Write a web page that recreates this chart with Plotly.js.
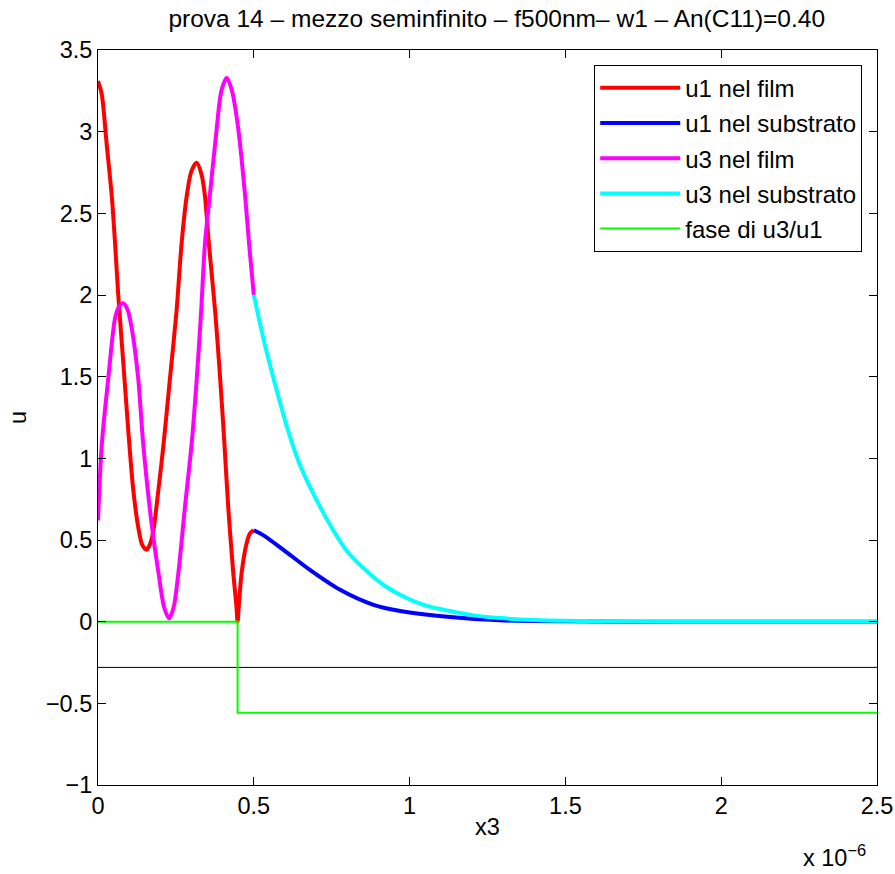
<!DOCTYPE html>
<html>
<head>
<meta charset="utf-8">
<script src="https://cdn.plot.ly/plotly-3.0.1.min.js"></script>
<style>html,body{margin:0;padding:0;background:#fff;}#chart{width:895px;height:874px;}</style>
</head>
<body>
<div id="chart"></div>
<script>
// x3 in units of 1e-6
const u1FilmX = [0, 0.012, 0.028, 0.044, 0.055, 0.065, 0.081, 0.098, 0.113, 0.129, 0.142, 0.156, 0.168, 0.178, 0.194, 0.21, 0.231, 0.252, 0.268, 0.285, 0.300, 0.317, 0.332, 0.343, 0.356, 0.376, 0.392, 0.405, 0.418, 0.434, 0.444, 0.448, 0.452, 0.461, 0.477, 0.488, 0.5];
const u1FilmY = [3.31, 3.23, 2.92, 2.61, 2.31, 2.0, 1.59, 1.15, 0.81, 0.58, 0.47, 0.44, 0.48, 0.56, 0.81, 1.08, 1.49, 1.90, 2.31, 2.61, 2.76, 2.81, 2.74, 2.61, 2.31, 1.90, 1.49, 1.11, 0.70, 0.30, 0.10, 0.0, 0.10, 0.30, 0.48, 0.54, 0.56];

const u1SubX = [0.5, 0.53, 0.595, 0.68, 0.777, 0.884, 0.97, 1.13, 1.29, 1.5, 1.7, 2.0, 2.5];
const u1SubY = [0.56, 0.53, 0.44, 0.317, 0.195, 0.103, 0.065, 0.028, 0.008, 0.002, 0.0, 0.0, 0.0];

const u3FilmX = [0, 0.012, 0.033, 0.055, 0.068, 0.081, 0.095, 0.108, 0.129, 0.145, 0.172, 0.194, 0.212, 0.228, 0.243, 0.258, 0.279, 0.301, 0.317, 0.331, 0.343, 0.359, 0.381, 0.396, 0.413, 0.430, 0.450, 0.472, 0.485, 0.5];
const u3FilmY = [0.62, 1.08, 1.49, 1.86, 1.93, 1.95, 1.91, 1.80, 1.49, 1.09, 0.60, 0.30, 0.09, 0.02, 0.09, 0.30, 0.70, 1.10, 1.49, 1.90, 2.31, 2.61, 3.02, 3.25, 3.33, 3.25, 3.02, 2.61, 2.31, 2.0];

const u3SubX = [0.5, 0.53, 0.573, 0.61, 0.648, 0.70, 0.755, 0.80, 0.862, 0.92, 0.99, 1.05, 1.13, 1.2, 1.29, 1.4, 1.5, 1.7, 2.0, 2.5];
const u3SubY = [2.0, 1.74, 1.42, 1.17, 0.96, 0.75, 0.56, 0.43, 0.31, 0.22, 0.145, 0.10, 0.065, 0.04, 0.022, 0.01, 0.005, 0.001, 0.0, 0.0];

const faseX = [0, 0.448, 0.448, 2.5];
const faseY = [0, 0, -0.557, -0.557];

const refX = [0, 2.5];
const refY = [-0.28, -0.28];

const xTicks = [0, 0.5, 1, 1.5, 2, 2.5];
const xTickText = ['0', '0.5', '1', '1.5', '2', '2.5'];
const yTicks = [-1, -0.5, 0, 0.5, 1, 1.5, 2, 2.5, 3, 3.5];

const FONT = 'Liberation Sans, Arial, sans-serif';

const traces = [
  {x: refX, y: refY, mode: 'lines', line: {color: '#000000', width: 1}, showlegend: false, hoverinfo: 'skip'},
  {x: u1FilmX, y: u1FilmY, mode: 'lines', name: 'u1 nel film', legendgroup: 'a', line: {color: '#ff0000', width: 4, shape: 'spline', smoothing: 0.8}},
  {x: u1SubX, y: u1SubY, mode: 'lines', name: 'u1 nel substrato', legendgroup: 'b', line: {color: '#0000ff', width: 4, shape: 'spline', smoothing: 0.8}},
  {x: u3FilmX, y: u3FilmY, mode: 'lines', name: 'u3 nel film', legendgroup: 'c', line: {color: '#ff00ff', width: 4, shape: 'spline', smoothing: 0.8}},
  {x: u3SubX, y: u3SubY, mode: 'lines', name: 'u3 nel substrato', legendgroup: 'd', line: {color: '#00ffff', width: 4, shape: 'spline', smoothing: 0.8}},
  {x: faseX, y: faseY, mode: 'lines', name: 'fase di u3/u1', legendgroup: 'e', line: {color: '#00ff00', width: 2}}
];

const axisCommon = {
  showgrid: false, zeroline: false, showline: true, linecolor: '#000', linewidth: 1,
  mirror: 'ticks', ticks: 'inside', ticklen: 8, tickcolor: '#000', tickwidth: 1,
  tickfont: {family: FONT, size: 23.5, color: '#000'}
};

const layout = {
  width: 895, height: 874,
  margin: {l: 98, r: 18, t: 50, b: 89},
  paper_bgcolor: '#fff', plot_bgcolor: '#fff',
  font: {family: FONT, color: '#000'},
  title: {text: 'prova 14 – mezzo seminfinito – f500nm– w1 – An(C11)=0.40', font: {family: FONT, size: 24.5, color: '#000'}, x: 0.555, xanchor: 'center', y: 0.979, yanchor: 'middle'},
  xaxis: Object.assign({}, axisCommon, {range: [0, 2.5], tickvals: xTicks, ticktext: xTickText, title: {text: 'x3', font: {family: FONT, size: 23.5, color: '#000'}, standoff: 0}}),
  yaxis: Object.assign({}, axisCommon, {range: [-1, 3.5], tickvals: yTicks, title: {text: 'u', font: {family: FONT, size: 23.5, color: '#000'}, standoff: 12}}),
  legend: {x: 0.637, y: 0.98, xanchor: 'left', yanchor: 'top', bgcolor: '#fff', bordercolor: '#000', borderwidth: 1, font: {family: FONT, size: 24, color: '#000'}, itemwidth: 80, traceorder: 'grouped', tracegroupgap: 1},
  annotations: [
    {xref: 'paper', yref: 'paper', x: 0.988, y: -0.074, xanchor: 'right', yanchor: 'top', showarrow: false, text: 'x 10<sup>−6</sup>', font: {family: FONT, size: 23.5, color: '#000'}}
  ],
  showlegend: true
};

Plotly.newPlot('chart', traces, layout, {displayModeBar: false, staticPlot: true});
</script>
</body>
</html>
